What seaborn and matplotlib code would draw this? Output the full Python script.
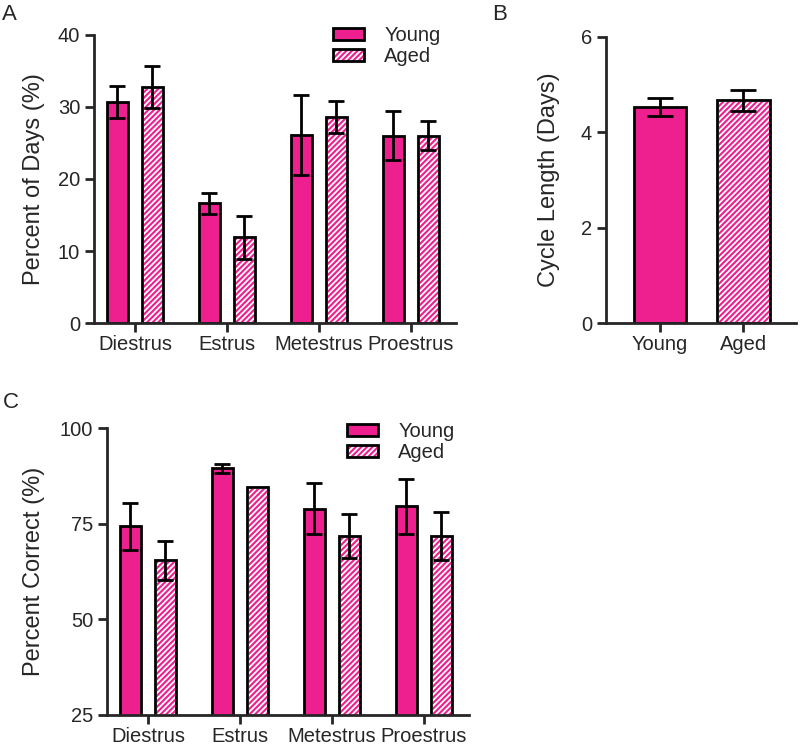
import numpy as np
import pandas as pd
import matplotlib
matplotlib.use("Agg")
import matplotlib.pyplot as plt
import seaborn as sns
from matplotlib.patches import Patch, Rectangle

# Dados
fases = ['Diestrus', 'Estrus', 'Metestrus', 'Proestrus']
grupos = ['Young', 'Aged']

dias_young = [30.7, 16.6, 26.1, 26.0]
dias_young_sem = [2.2, 1.4, 5.6, 3.4]
dias_aged = [32.8, 11.9, 28.6, 26.0]
dias_aged_sem = [2.9, 3.0, 2.2, 2.0]

ciclo = [4.53, 4.67]
ciclo_sem = [0.18, 0.22]

correto_young = [74.3, 89.5, 78.9, 79.6]
correto_young_sem = [6.1, 1.2, 6.7, 7.2]
correto_aged = [65.4, 84.6, 71.8, 71.8]
correto_aged_sem = [5.1, np.nan, 5.8, 6.3]

rosa = '#EE1F8E'
lw = 2.0

sns.set_style('ticks')
plt.rcParams['font.family'] = ['Liberation Sans', 'DejaVu Sans']
plt.rcParams['font.size'] = 14
plt.rcParams['hatch.linewidth'] = 1.3
plt.rcParams['axes.linewidth'] = lw
plt.rcParams['xtick.major.width'] = lw
plt.rcParams['ytick.major.width'] = lw
plt.rcParams['xtick.major.size'] = 6.5
plt.rcParams['ytick.major.size'] = 6.5
plt.rcParams['xtick.major.pad'] = 2.0
plt.rcParams['xtick.labelsize'] = 14.5
plt.rcParams['ytick.labelsize'] = 14.5


def hachurar(ax, barras):
    # barra com listras brancas + contorno preto por cima
    for b in barras:
        b.set_hatch('//////')
        b.set_edgecolor('white')
        ax.add_patch(Rectangle(b.get_xy(), b.get_width(), b.get_height(),
                               fill=False, edgecolor='black', linewidth=lw, zorder=b.get_zorder() + 0.1))


def erros(ax, barras, sem, capsize):
    for b, e in zip(barras, sem):
        if np.isnan(e):
            continue
        ax.errorbar(b.get_x() + b.get_width() / 2, b.get_height(), yerr=e,
                    color='black', elinewidth=lw, capsize=capsize, capthick=lw, zorder=5)


def legenda(ax, ancora):
    h_young = Patch(facecolor=rosa, edgecolor='black', linewidth=lw)
    h_aged = (Patch(facecolor=rosa, edgecolor='white', hatch='//////'),
              Patch(fill=False, edgecolor='black', linewidth=lw))
    ax.legend([h_young, h_aged], grupos, loc='upper left', bbox_to_anchor=ancora,
              frameon=False, borderpad=0, borderaxespad=0, handlelength=1.55,
              handleheight=0.57, handletextpad=1.0, labelspacing=0.1, fontsize=14.5)


def painel_agrupado(ax, young, young_sem, aged, aged_sem):
    df = pd.DataFrame({'fase': fases * 2,
                       'grupo': ['Young'] * 4 + ['Aged'] * 4,
                       'valor': young + aged})
    sns.barplot(data=df, x='fase', y='valor', hue='grupo', hue_order=grupos,
                palette=[rosa, rosa], width=0.76, gap=0.4, errorbar=None,
                edgecolor='black', linewidth=lw, saturation=1, legend=False, ax=ax)
    hachurar(ax, ax.containers[1])
    erros(ax, ax.containers[0], young_sem, 5.5)
    erros(ax, ax.containers[1], aged_sem, 5.5)
    ax.set_xlim(-0.445, 3.49)
    ax.set_xlabel('')
    sns.despine(ax=ax)


fig = plt.figure(figsize=(8, 7.47), dpi=100)

# A
axA = fig.add_axes([94 / 800, 1 - 323 / 747, 362 / 800, 288 / 747])
painel_agrupado(axA, dias_young, dias_young_sem, dias_aged, dias_aged_sem)
axA.set_ylim(0, 40)
axA.set_yticks([0, 10, 20, 30, 40])
axA.set_ylabel('Percent of Days (%)', fontsize=17)
axA.yaxis.set_label_coords(-0.135, 0.5)
legenda(axA, (0.66, 1.03))

# B
axB = fig.add_axes([606 / 800, 1 - 323 / 747, 190 / 800, 286 / 747])
dfB = pd.DataFrame({'grupo': grupos, 'valor': ciclo})
sns.barplot(data=dfB, x='grupo', y='valor', hue='grupo', palette=[rosa, rosa],
            width=0.63, errorbar=None, edgecolor='black', linewidth=lw,
            saturation=1, legend=False, ax=axB)
barrasB = [c[0] for c in axB.containers]
hachurar(axB, [barrasB[1]])
erros(axB, barrasB, ciclo_sem, 9.5)
axB.set_xlim(-0.65, 1.63)
axB.set_ylim(0, 6)
axB.set_yticks([0, 2, 4, 6])
axB.set_xlabel('')
axB.set_ylabel('Cycle Length (Days)', fontsize=17)
axB.yaxis.set_label_coords(-0.242, 0.5)
sns.despine(ax=axB)

# C
axC = fig.add_axes([107 / 800, 1 - 715 / 747, 362 / 800, 287 / 747])
painel_agrupado(axC, correto_young, correto_young_sem, correto_aged, correto_aged_sem)
axC.set_ylim(25, 100)
axC.set_yticks([25, 50, 75, 100])
axC.set_ylabel('Percent Correct (%)', fontsize=17)
axC.yaxis.set_label_coords(-0.171, 0.5)
legenda(axC, (0.663, 1.02))

fig.text(0.003, 0.995, 'A', fontsize=16, va='top', ha='left')
fig.text(0.615, 0.995, 'B', fontsize=16, va='top', ha='left')
fig.text(0.003, 0.475, 'C', fontsize=16, va='top', ha='left')

fig.savefig('out.png', dpi=100)
